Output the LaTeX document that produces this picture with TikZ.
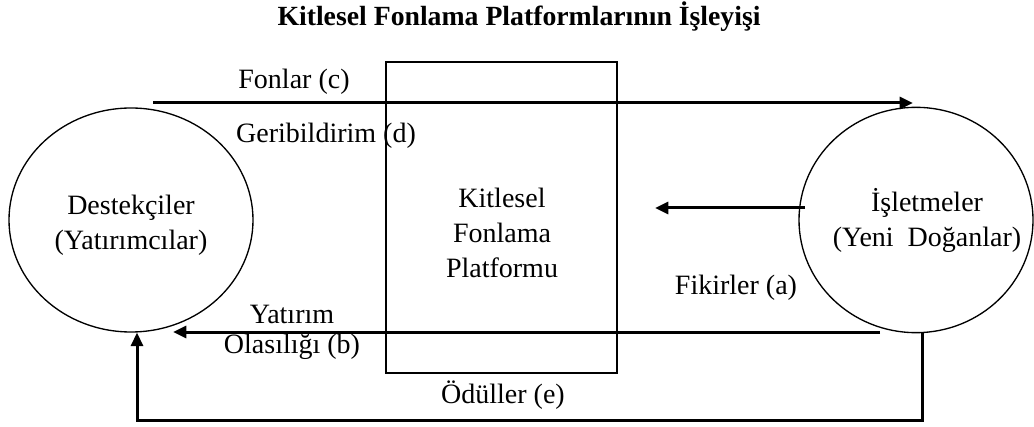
\documentclass[tikz,border=0pt]{standalone}
\usepackage{fontspec}
\setmainfont{Liberation Serif}
\usetikzlibrary{positioning,arrows.meta,shapes.geometric}

\begin{document}
\begin{tikzpicture}[x=0.75pt,y=-0.75pt,
  every node/.style={font=\fontsize{21}{26.25}\selectfont,inner sep=0pt},
  party/.style={ellipse,draw,line width=1pt,inner sep=0pt},
  platbox/.style={rectangle,draw,line width=0.9pt,
    minimum width=173.25pt,minimum height=233.25pt},
  flow/.style={line width=2.25pt,-{Triangle[length=10pt,width=9pt]}}]
  \useasboundingbox (0,0) rectangle (1034,427);
  \node[font=\fontsize{20.8}{24}\selectfont\bfseries] (title) at (519,17) {Kitlesel Fonlama Platformlarının İşleyişi};
  % the three actors
  \node[party,minimum width=183pt,minimum height=168pt] (backers) at (131,220) {};
  \node[party,minimum width=175.5pt,minimum height=169pt] (firms) at (916,220) {};
  \node[platbox] (platform) at (501.5,217.5) {};
  \node[align=center] (backersLbl) at (131,225) {Destekçiler\\(Yatırımcılar)};
  \node[align=center] (firmsLbl) at (927,220) {İşletmeler\\(Yeni~ Doğanlar)};
  \node[align=center] (platLbl) at (502,233) {Kitlesel\\Fonlama\\Platformu};
  % arrow ends
  \coordinate (fundS) at (153,103); \coordinate (fundE) at (913,103);
  \coordinate (ideaS) at (805,208); \coordinate (ideaE) at (655,208);
  \coordinate (invS) at (880,332); \coordinate (invE) at (173,332);
  \coordinate (rewR) at (922,420); \coordinate (rewL) at (137,420);
  \draw[flow] (fundS) -- (fundE);
  \draw[flow] (ideaS) -- (ideaE);
  \draw[flow] (invS) -- (invE);
  \draw[flow] (rewR |- firms.south) -- (rewR) -- (rewL) -- (rewL |- backers.south);
  % labels
  \node (fonlar) at (294,82) {Fonlar (c)};
  \node (geri) at (326,136) {Geribildirim (d)};
  \node (fikir) at (736,288) {Fikirler (a)};
  \node (yatirim) at (292,314) {Yatırım};
  \node (olasi) at (292,347) {Olasılığı (b)};
  \node (odul) at (503,395) {Ödüller (e)};
\end{tikzpicture}
\end{document}
